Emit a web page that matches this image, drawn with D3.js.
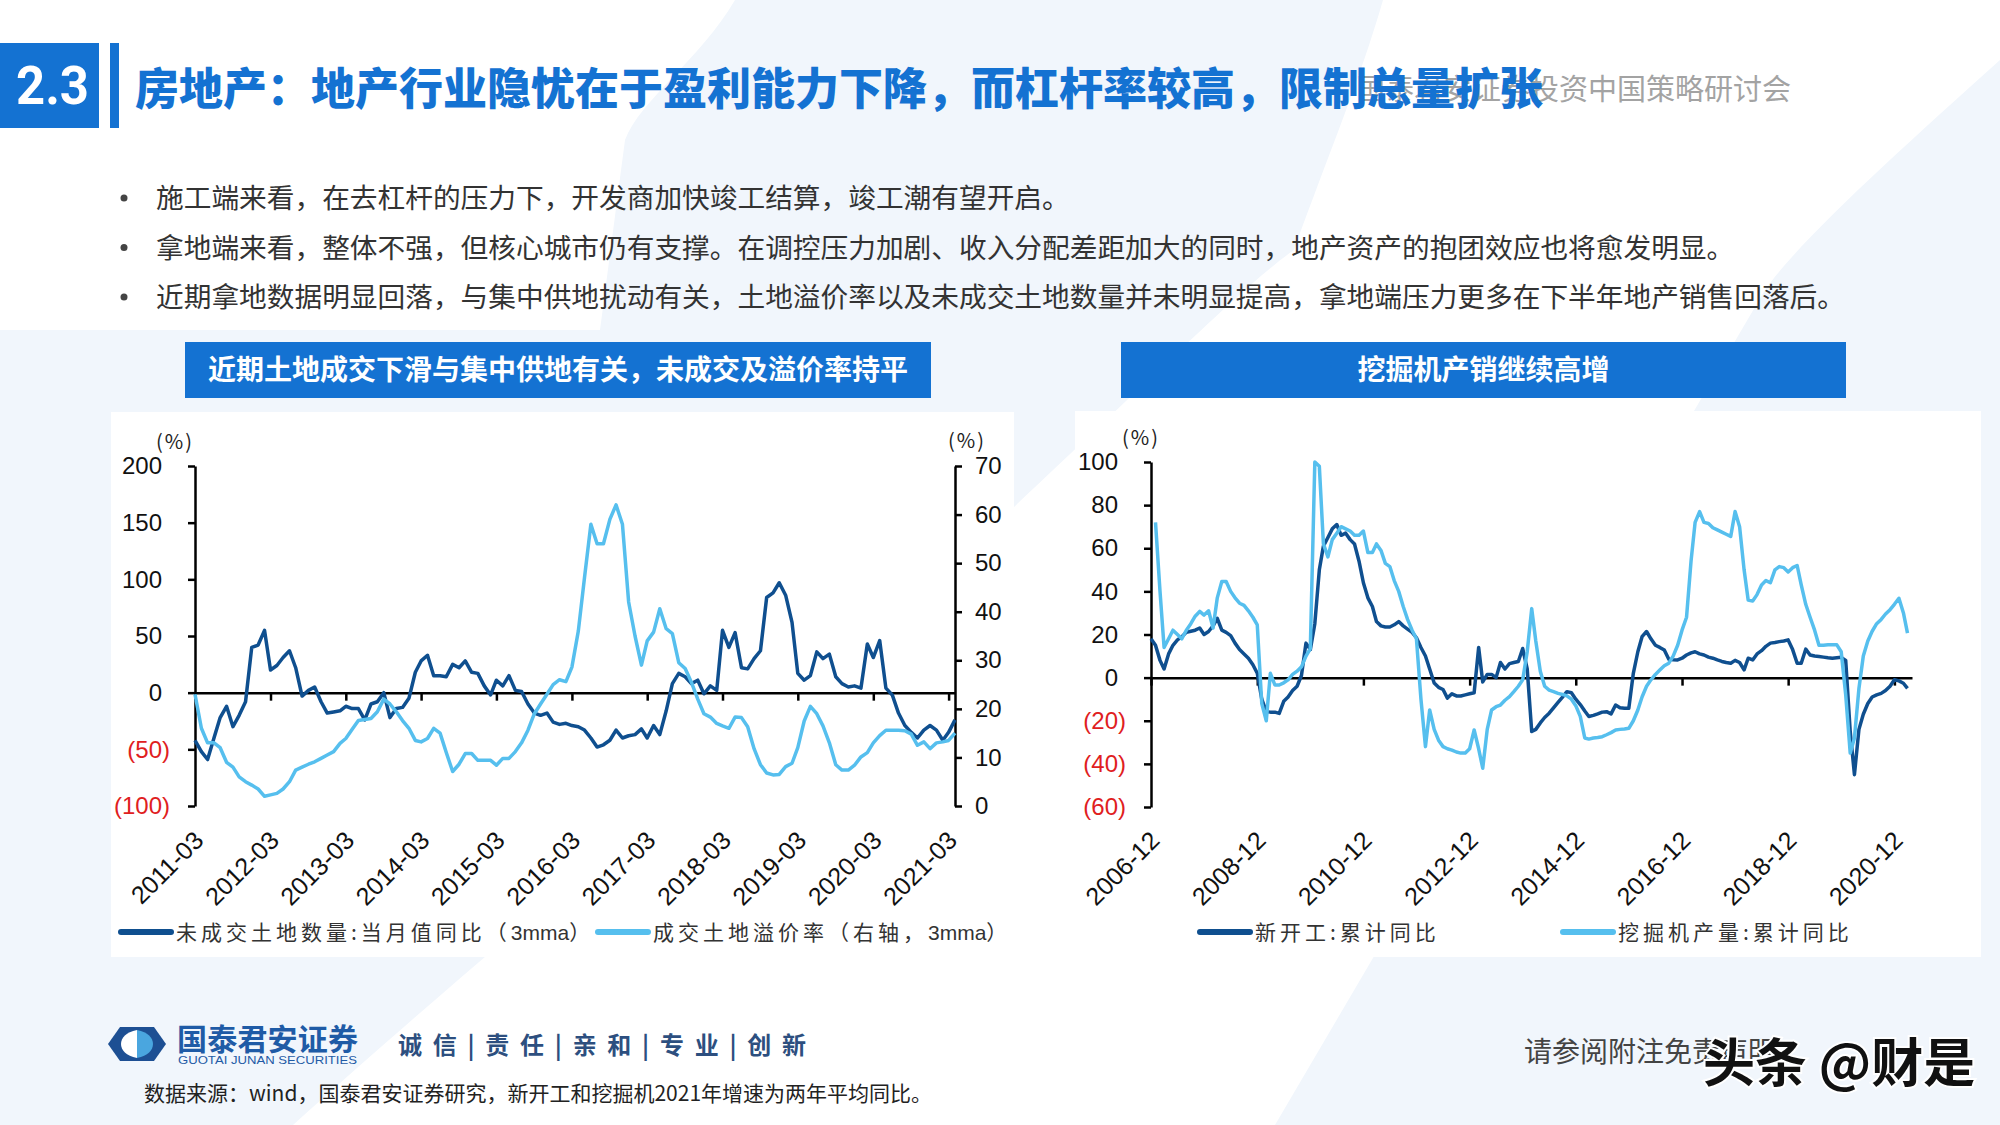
<!DOCTYPE html>
<html>
<head>
<meta charset="utf-8">
<script src="https://cdn.jsdelivr.net/npm/d3@7"></script>
<style>
  body { margin: 0; background: #fff; }
  svg text { font-family: "Noto Sans CJK SC", "Noto Sans", sans-serif; }
</style>
</head>
<body>
<svg id="slide" width="2000" height="1125"></svg>
<script>
// index.html
// Slide 2.3 recreated with D3: two dual-line charts (land market / excavators)

// ---------- data: land market, monthly from 2011-03 ----------
const landStart = "2011-03";
// 未成交土地数量:当月值同比 (3mma), left axis
const unsoldLandYoy = [
  -42, -52, -59, -40, -22, -12, -30, -20, -8, 40, 42, 55, 20, 24, 31, 37, 22, -3, 2, 5,
  -8, -18, -17, -16, -12, -14, -14, -24, -10, -8, 0, -22, -14, -13, -5, 18, 28, 33, 15, 15,
  14, 25, 22, 28, 18, 17, 6, -2, 11, 6, 15, 2, 1, -10, -18, -20, -18, -26, -28, -27,
  -29, -30, -33, -40, -48, -46, -42, -33, -40, -38, -37, -32, -40, -29, -37, -16, 8, 17, 14, 8,
  11, -1, 6, 2, 55, 40, 53, 22, 21, 30, 37, 84, 88, 97, 86, 62, 17, 11, 15, 36,
  30, 34, 14, 8, 5, 6, 4, 43, 31, 46, 4, -2, -18, -29, -35, -40, -33, -29, -33, -42,
  -35, -24
];
// 成交土地溢价率 (右轴, 3mma)
const landPremiumRate = [
  23, 16, 13, 13, 12, 9, 8, 6, 5, 4.3, 3.5, 2, 2.3, 2.6, 3.5, 5, 7.4, 8, 8.6, 9.1,
  9.8, 10.5, 11.2, 12.9, 13.9, 15.8, 17.6, 17.8, 18, 19.4, 22, 21, 19.4, 17.6, 16, 13.5, 13.2, 13.9, 16, 15,
  11, 7.1, 8.6, 10.8, 10.8, 9.4, 9.4, 9.4, 8.4, 9.8, 9.8, 11.2, 13, 15.6, 19, 21, 23, 25, 26, 25.6,
  28.6, 36, 47, 58, 54, 54, 59, 62, 58, 42, 35, 29, 34, 35.8, 40.6, 36.5, 35.5, 29.5, 28.3, 25.5,
  22, 19, 18.3, 17, 16.5, 16, 18.3, 18.2, 16.3, 11.8, 8.5, 6.8, 6.4, 6.5, 8.1, 8.8, 12, 17.5, 20.5, 19,
  16.5, 13, 8.5, 7.4, 7.4, 8.4, 10.1, 11, 13, 14.5, 15.6, 15.6, 15.6, 15.5, 14.8, 12.5, 13.2, 11.8, 13, 13.2,
  13.5, 15
];
const landTickLabels = ["2011-03", "2012-03", "2013-03", "2014-03", "2015-03", "2016-03",
  "2017-03", "2018-03", "2019-03", "2020-03", "2021-03"];
const landLeftTicks = [-100, -50, 0, 50, 100, 150, 200];
const landRightTicks = [0, 10, 20, 30, 40, 50, 60, 70];

// ---------- data: new starts vs excavator output, monthly ----------
const newStartsStart = "2006-12";
// 新开工:累计同比
const newStartsYoy = [
  18, 15, 8, 4, 11, 15, 17.5, 19, 21, 21.5, 22, 23, 20, 21.4, 24, 27.5, 22, 21, 19.5, 16,
  13, 11, 9, 6, 2, -10, -15.8, -16, -16, -16.6, -11, -9, -6, -4, 1, 16, 13, 25, 50, 61,
  65, 69, 71, 66, 67, 64, 62, 54, 44, 37, 33, 26, 24, 23.5, 23.5, 24.5, 26, 24, 22.5, 21,
  18.5, 14, 10, 4, -2.5, -4.5, -5.5, -9.5, -7.5, -8.5, -8.5, -8, -7.5, -7, 14, -2, 1.5, 1.5, 0, 7,
  4, 6.5, 7, 7.5, 13.5, 4, -25, -24, -21, -18.5, -16.5, -14, -11.5, -9, -6.5, -7, -10, -12.5, -15.5, -18,
  -17.5, -16.8, -16, -15.8, -16.8, -12.7, -14, -14.2, -14.2, 2, 12, 19, 21.4, 18, 15, 14, 12.8, 8.5, 8.3, 8.2,
  9, 10.5, 11.5, 12, 11, 10.5, 9.5, 9, 8.2, 7.5, 7, 6.7, 8, 7, 3.6, 9, 8.2, 11, 12.5, 14.5,
  16, 16.3, 16.7, 17, 17.5, 13, 6.7, 6.7, 13.2, 10.5, 10, 9.8, 9.5, 9.2, 9, 9.2, 9.4, 8, -25, -45,
  -24, -17, -12, -9, -8, -7.3, -6, -4, -1, -1.5, -2.6, -5
];
const excavatorStart = "2007-01";
// 挖掘机产量:累计同比
const excavatorYoy = [
  72, 40, 14, 18, 22, 20, 18, 22, 25, 28.5, 30.7, 29, 31, 23, 37, 44.6, 44.6, 40, 37, 34.5,
  33.5, 31, 28, 24.5, -12, -20, 2, -3.4, -3.4, -2.4, -1, 1.5, 3, 5, 10, 13.5, 100, 98, 62, 56,
  64, 67, 70, 69, 68, 66, 66, 68, 58, 58, 62, 59, 53, 51.5, 45, 40, 33, 27, 22, 18,
  -10, -32, -15, -24, -29, -32, -33, -33.6, -34.5, -35, -35, -33, -24.3, -33, -42, -24, -15, -13.5, -12.7, -10.5,
  -8.8, -6.5, -4, -1, 12, 32, 17, 3, -4, -5.8, -6.5, -7.3, -7.8, -8.5, -10, -13, -18, -28, -28.5, -28,
  -27.8, -27.4, -26.5, -25.5, -24.3, -24, -23.8, -23.5, -20, -15, -9, -4, -1, 1.5, 3.5, 5.5, 6.7, 10, 15, 22,
  28, 54, 72, 77, 72, 71.5, 69.5, 68.5, 67.5, 66.5, 65.5, 77, 70, 50, 36, 35.5, 38.5, 43, 45, 44,
  50, 51.5, 51, 49, 51, 52, 43, 34, 28, 22, 15, 15, 15.2, 15.2, 15.2, 12, -8, -35, -28, -5,
  10, 17, 21.5, 25, 27, 29.5, 31.5, 34, 36.8, 30, 20.6
];
const excavTickLabels = ["2006-12", "2008-12", "2010-12", "2012-12", "2014-12",
  "2016-12", "2018-12", "2020-12"];
const excavTicks = [-60, -40, -20, 0, 20, 40, 60, 80, 100];

// ---------- text ----------
const bullets = [
  "施工端来看，在去杠杆的压力下，开发商加快竣工结算，竣工潮有望开启。",
  "拿地端来看，整体不强，但核心城市仍有支撑。在调控压力加剧、收入分配差距加大的同时，地产资产的抱团效应也将愈发明显。",
  "近期拿地数据明显回落，与集中供地扰动有关，土地溢价率以及未成交土地数量并未明显提高，拿地端压力更多在下半年地产销售回落后。"
];

// colours
const DARK = "#0f4f8f";
const LIGHT = "#56bfee";
const BLUE = "#1472d2";
const RED = "#e0201e";

const parseMonth = d3.timeParse("%Y-%m");
const toSeries = (start, values) => {
  const t0 = parseMonth(start);
  return values.map((v, i) => ({ date: d3.timeMonth.offset(t0, i), value: v }));
};
const fmtNum = v => v < 0 ? `(${-v})` : `${v}`;

const svg = d3.select("#slide");

// ---------- background ----------
svg.append("rect").attr("width", 2000).attr("height", 1125).attr("fill", "#f1f6fc");
svg.append("path")
  .attr("d", "M0,0 L735,0 C700,60 640,100 625,140 L600,330 L0,330 Z")
  .attr("fill", "#fff");
svg.append("path")
  .attr("d", "M1383,0 L2000,0 L2000,60 C1900,150 1800,240 1765,290 L1275,1125 L293,1125 C600,850 800,700 1000,520 C1150,380 1250,280 1294,250 C1330,150 1360,80 1383,0 Z")
  .attr("fill", "#fff");

// ---------- header ----------
svg.append("rect").attr("x", 0).attr("y", 43).attr("width", 99).attr("height", 85).attr("fill", BLUE);
svg.append("text").attr("x", 16).attr("y", 104)
  .attr("textLength", 73).attr("lengthAdjust", "spacingAndGlyphs")
  .style("font-family", "Roboto, 'Liberation Sans', sans-serif")
  .attr("font-size", 54).attr("font-weight", 700).attr("fill", "#fff").text("2.3");
svg.append("rect").attr("x", 110).attr("y", 43).attr("width", 9).attr("height", 85).attr("fill", BLUE);

svg.append("text").attr("x", 1791).attr("y", 100).attr("text-anchor", "end")
  .attr("font-size", 29).attr("fill", "#a3a3a3")
  .text("国泰君安证券投资中国策略研讨会");
svg.append("text").attr("x", 135).attr("y", 105)
  .attr("font-size", 44).attr("font-weight", 900).attr("fill", BLUE)
  .text("房地产：地产行业隐忧在于盈利能力下降，而杠杆率较高，限制总量扩张");

// bullets
bullets.forEach((t, i) => {
  const y = 208 + i * 49.5;
  svg.append("circle").attr("cx", 124).attr("cy", y - 10).attr("r", 3.5).attr("fill", "#444");
  svg.append("text").attr("x", 156).attr("y", y).attr("font-size", 27.7).attr("fill", "#333").text(t);
});

// chart header boxes
const chartHeads = [
  { x: 185, w: 746, text: "近期土地成交下滑与集中供地有关，未成交及溢价率持平" },
  { x: 1121, w: 725, text: "挖掘机产销继续高增" }
];
chartHeads.forEach(h => {
  svg.append("rect").attr("x", h.x).attr("y", 342).attr("width", h.w).attr("height", 56).attr("fill", BLUE);
  svg.append("text").attr("x", h.x + h.w / 2).attr("y", 380).attr("text-anchor", "middle")
    .attr("font-size", 28).attr("font-weight", 700).attr("fill", "#fff").text(h.text);
});

// chart panels
svg.append("rect").attr("x", 111).attr("y", 412).attr("width", 903).attr("height", 545).attr("fill", "#fff");
svg.append("rect").attr("x", 1075).attr("y", 411).attr("width", 906).attr("height", 546).attr("fill", "#fff");

// ---------- shared axis helpers ----------
function styleAxis(sel) {
  sel.select(".domain").attr("stroke", "#000").attr("stroke-width", 2.5);
  sel.selectAll(".tick line").attr("stroke", "#000").attr("stroke-width", 2.5);
  sel.selectAll("text")
    .style("font-family", "'Liberation Sans', Arial, sans-serif")
    .attr("font-size", 24);
}

function leftAxis(g, scale, ticks, x) {
  const ax = g.append("g").attr("transform", `translate(${x},0)`)
    .call(d3.axisLeft(scale).tickValues(ticks).tickSize(7).tickSizeOuter(0).tickPadding(26).tickFormat(fmtNum));
  styleAxis(ax);
  ax.selectAll("text")
    .attr("fill", d => d < 0 ? RED : "#111")
    .attr("x", d => d < 0 ? -25 : -33);
}

function bottomLabels(g, xScale, labels, y) {
  labels.forEach(l => {
    const x = xScale(parseMonth(l));
    g.append("text")
      .attr("transform", `translate(${x + 10},${y}) rotate(-45)`)
      .attr("text-anchor", "end")
      .style("font-family", "'Liberation Sans', Arial, sans-serif")
      .attr("font-size", 25).attr("fill", "#111")
      .text(l);
  });
}

// legend labels: CJK spaced out, latin runs (3mma) kept tight
function legendItem(g, x, y, color, label, w) {
  g.append("line").attr("x1", x).attr("x2", x + w).attr("y1", y).attr("y2", y)
    .attr("stroke", color).attr("stroke-width", 6).attr("stroke-linecap", "round");
  const t = g.append("text").attr("x", x + w + 5).attr("y", y + 8)
    .attr("font-size", 21).attr("fill", "#333");
  label.split(/([0-9a-z]+)/).filter(s => s.length).forEach(s => {
    const latin = /^[0-9a-z]+$/.test(s);
    t.append("tspan")
      .attr("letter-spacing", latin ? 0 : 4)
      .style("font-family", latin ? "'Liberation Sans', Arial, sans-serif" : null)
      .text(s);
  });
}

// ---------- left chart: land ----------
const gL = svg.append("g");
const xLand = d3.scaleTime().domain([parseMonth("2011-03"), parseMonth("2021-04")]).range([195, 955]);
const yLandL = d3.scaleLinear().domain([-100, 200]).range([806, 466]);
const yLandR = d3.scaleLinear().domain([0, 70]).range([806, 466]);

leftAxis(gL, yLandL, landLeftTicks, 195);

const axR = gL.append("g").attr("transform", "translate(955,0)")
  .call(d3.axisRight(yLandR).tickValues(landRightTicks).tickSize(7).tickSizeOuter(0).tickPadding(13));
styleAxis(axR);
axR.selectAll("text").attr("fill", "#111");

const axLandX = gL.append("g").attr("transform", `translate(0,${yLandL(0)})`)
  .call(d3.axisBottom(xLand).tickValues(landTickLabels.map(parseMonth)).tickSize(8).tickSizeOuter(0).tickFormat(""));
styleAxis(axLandX);

bottomLabels(gL, xLand, landTickLabels, 842);

gL.append("text").attr("x", 175).attr("y", 449).attr("text-anchor", "middle")
  .attr("font-size", 20).attr("letter-spacing", 2).attr("fill", "#222").text("(%)");
gL.append("text").attr("x", 967).attr("y", 448).attr("text-anchor", "middle")
  .attr("font-size", 20).attr("letter-spacing", 2).attr("fill", "#222").text("(%)");

const lineLandL = d3.line().x(d => xLand(d.date)).y(d => yLandL(d.value));
const lineLandR = d3.line().x(d => xLand(d.date)).y(d => yLandR(d.value));

gL.append("path").datum(toSeries(landStart, unsoldLandYoy))
  .attr("fill", "none").attr("stroke", DARK).attr("stroke-width", 3.5)
  .attr("stroke-linejoin", "round").attr("d", lineLandL);
gL.append("path").datum(toSeries(landStart, landPremiumRate))
  .attr("fill", "none").attr("stroke", LIGHT).attr("stroke-width", 3.5)
  .attr("stroke-linejoin", "round").attr("d", lineLandR);

legendItem(gL, 121, 932, DARK, "未成交土地数量:当月值同比（3mma）", 50);
legendItem(gL, 598, 932, LIGHT, "成交土地溢价率（右轴，3mma）", 50);

// ---------- right chart: excavators ----------
const gR = svg.append("g");
const xEx = d3.scaleTime().domain([parseMonth("2006-12"), parseMonth("2021-04")]).range([1151, 1912]);
const yEx = d3.scaleLinear().domain([-60, 100]).range([807, 462]);

leftAxis(gR, yEx, excavTicks, 1151);

const axExX = gR.append("g").attr("transform", `translate(0,${yEx(0)})`)
  .call(d3.axisBottom(xEx).tickValues(excavTickLabels.map(parseMonth)).tickSize(8).tickSizeOuter(0).tickFormat(""));
styleAxis(axExX);

bottomLabels(gR, xEx, excavTickLabels, 842);

gR.append("text").attr("x", 1141).attr("y", 445).attr("text-anchor", "middle")
  .attr("font-size", 20).attr("letter-spacing", 2).attr("fill", "#222").text("(%)");

const lineEx = d3.line().x(d => xEx(d.date)).y(d => yEx(d.value));

gR.append("path").datum(toSeries(newStartsStart, newStartsYoy))
  .attr("fill", "none").attr("stroke", DARK).attr("stroke-width", 3.5)
  .attr("stroke-linejoin", "round").attr("d", lineEx);
gR.append("path").datum(toSeries(excavatorStart, excavatorYoy))
  .attr("fill", "none").attr("stroke", LIGHT).attr("stroke-width", 3.5)
  .attr("stroke-linejoin", "round").attr("d", lineEx);

legendItem(gR, 1200, 932, DARK, "新开工:累计同比", 50);
legendItem(gR, 1563, 932, LIGHT, "挖掘机产量:累计同比", 50);

// ---------- footer ----------
const foot = svg.append("g");
// logo mark: dark hexagon, white left lens, light-blue right lens
foot.append("path")
  .attr("d", "M120,1027 L154,1027 L166,1044 L154,1061 L120,1061 L108,1044 Z")
  .attr("fill", "#1d4f93");
foot.append("path")
  .attr("d", "M137,1030 C126,1032 121,1038 121,1044 C121,1050 126,1056 137,1058 Z")
  .attr("fill", "#fff");
foot.append("path")
  .attr("d", "M137,1030 C148,1032 153,1038 153,1044 C153,1050 148,1056 137,1058 Z")
  .attr("fill", "#4aa6df");

foot.append("text").attr("x", 177).attr("y", 1050)
  .attr("font-size", 30).attr("font-weight", 700).attr("fill", "#1f5ba6")
  .attr("textLength", 181).text("国泰君安证券");
foot.append("text").attr("x", 178).attr("y", 1064)
  .style("font-family", "'Liberation Sans', Arial, sans-serif")
  .attr("font-size", 11).attr("fill", "#1f5ba6")
  .attr("textLength", 179).attr("lengthAdjust", "spacingAndGlyphs")
  .text("GUOTAI JUNAN SECURITIES");
foot.append("text").attr("x", 398).attr("y", 1054)
  .attr("font-size", 24).attr("font-weight", 700).attr("fill", "#2d4f7f")
  .attr("textLength", 408)
  .text("诚 信 | 责 任 | 亲 和 | 专 业 | 创 新");

foot.append("text").attr("x", 144).attr("y", 1101)
  .attr("font-size", 21).attr("fill", "#222")
  .text("数据来源：wind，国泰君安证券研究，新开工和挖掘机2021年增速为两年平均同比。");

foot.append("text").attr("x", 1524).attr("y", 1062)
  .attr("font-size", 28).attr("fill", "#444").text("请参阅附注免责声明");
foot.append("text").attr("x", 1703).attr("y", 1082)
  .attr("font-size", 52).attr("font-weight", 700).attr("fill", "#111")
  .attr("stroke", "#fff").attr("stroke-width", 4).attr("paint-order", "stroke")
  .text("头条 @财是");
</script>
</body>
</html>
